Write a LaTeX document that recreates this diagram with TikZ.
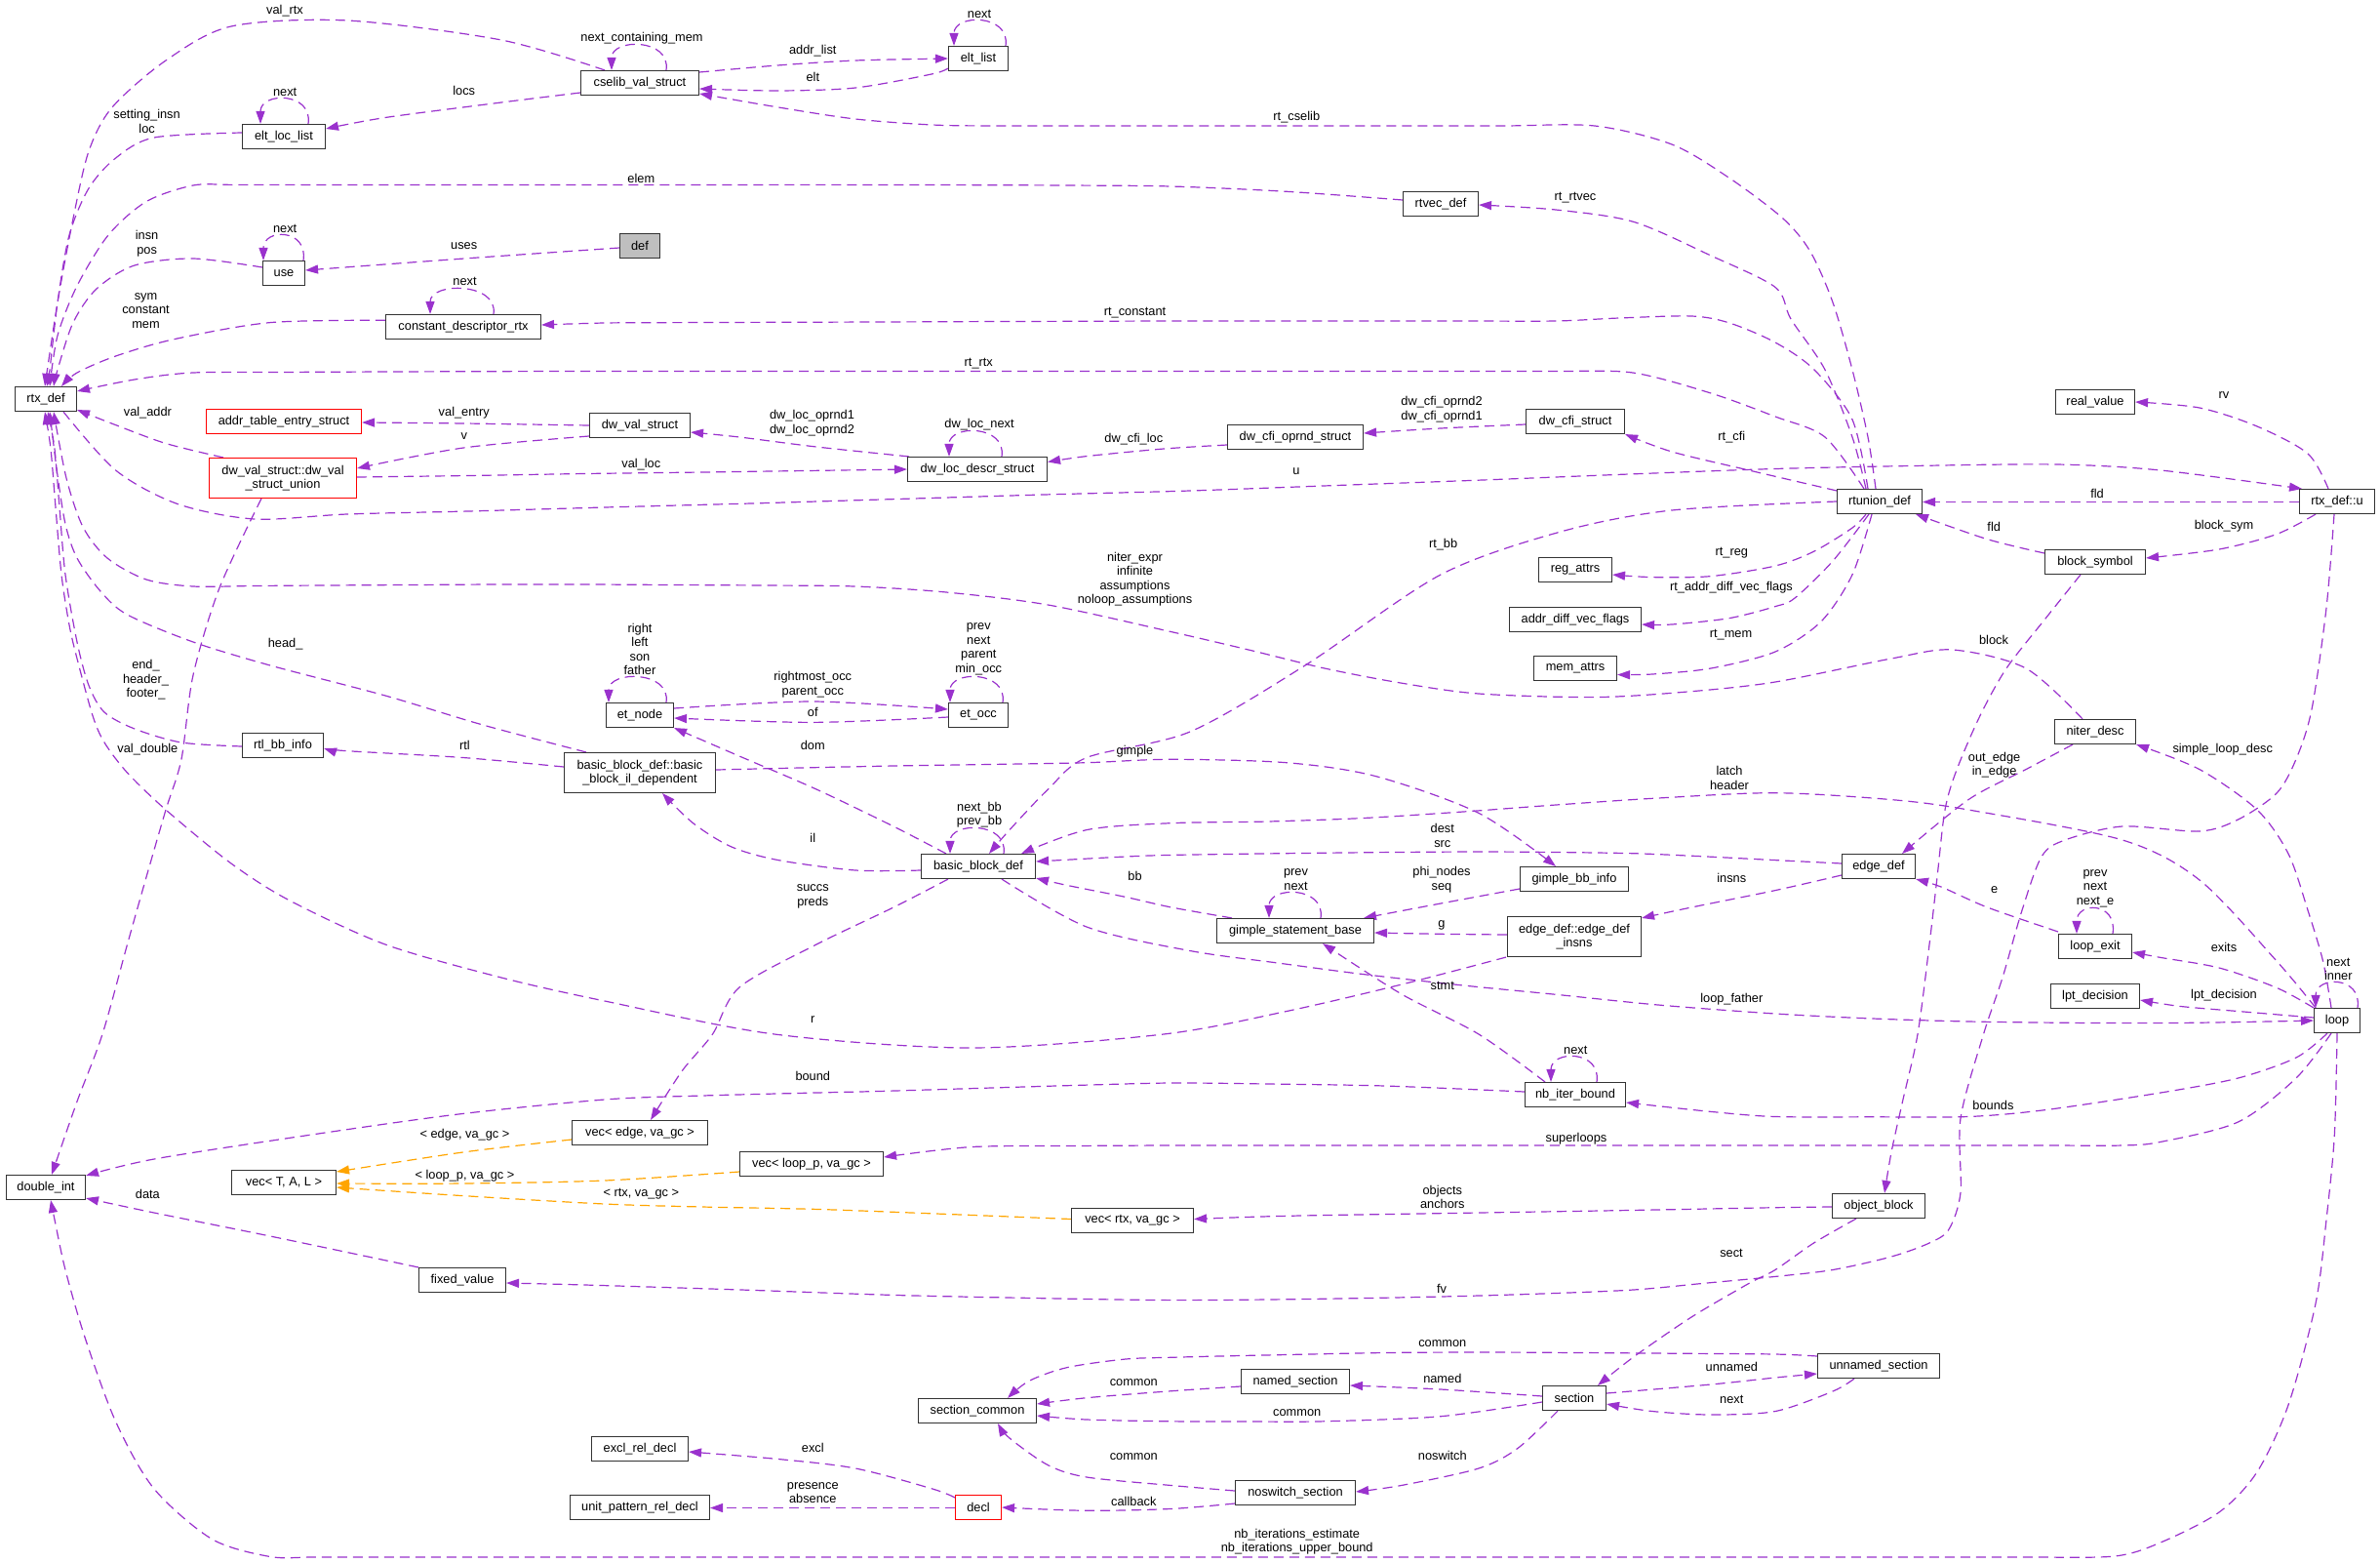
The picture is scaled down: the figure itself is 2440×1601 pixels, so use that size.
\documentclass[tikz,border=0pt]{standalone}
\usepackage{fontspec}
\setmainfont{Liberation Sans}
\usetikzlibrary{arrows.meta}
\definecolor{purp}{HTML}{9A32CD}
\definecolor{orng}{HTML}{FFA500}
\definecolor{gfill}{HTML}{BFBFBF}
\newcommand\gfont{\fontsize{12.8}{14.6}\selectfont}
\pgfdeclarelayer{bg}
\pgfsetlayers{bg,main}
\tikzset{
  box/.style={draw=black!80, line width=1.1pt, fill=white, minimum height=25pt, inner sep=2pt, font=\gfont, align=center},
  rbox/.style={box, draw=red},
  gbox/.style={box, fill=gfill},
  lab/.style={font=\gfont, align=center, inner sep=0pt},
  e/.style={draw=purp, line width=1.2pt, dash pattern=on 10pt off 6pt, -{Triangle[length=13pt,width=9pt]}},
  o/.style={e, draw=orng}
}
\newcommand\selfloop[3]{\draw[e] ([xshift=#2pt]#1.north) .. controls +(5,-33) and +(0,-33) .. ([xshift=#3pt]#1.north);}
\begin{document}
\begin{tikzpicture}[x=1pt,y=-1pt]
\useasboundingbox (0,0) rectangle (2440,1601);
% ---------- class nodes ----------
\node[box,minimum width=63pt] (rtx) at (47,409) {rtx\_def};
\node[box,minimum width=85pt] (eltloc) at (291,140) {elt\_loc\_list};
\node[box,minimum width=43pt] (use) at (291,280) {use};
\node[box,minimum width=159pt] (cdr) at (475,335) {constant\_descriptor\_rtx};
\node[rbox,minimum width=159pt] (ate) at (291,432) {addr\_table\_entry\_struct};
\node[rbox,minimum width=151pt,minimum height=41pt] (dvu) at (290,490) {dw\_val\_struct::dw\_val\\\_struct\_union};
\node[box,minimum width=121pt] (cselib) at (656,85) {cselib\_val\_struct};
\node[box,minimum width=61pt] (eltlist) at (1003,60) {elt\_list};
\node[gbox,minimum width=41pt] (def) at (656,252) {def};
\node[box,minimum width=103pt] (dvs) at (656,436) {dw\_val\_struct};
\node[box,minimum width=143pt] (dlds) at (1002,481) {dw\_loc\_descr\_struct};
\node[box,minimum width=77pt] (rtvec) at (1477,209) {rtvec\_def};
\node[box,minimum width=139pt] (dcos) at (1328,448) {dw\_cfi\_oprnd\_struct};
\node[box,minimum width=101pt] (dcs) at (1615,432) {dw\_cfi\_struct};
\node[box,minimum width=81pt] (realv) at (2148,412) {real\_value};
\node[box,minimum width=87pt] (rtu) at (1927,514) {rtunion\_def};
\node[box,minimum width=77pt] (rxu) at (2396,514) {rtx\_def::u};
\node[box,minimum width=83pt] (rtlbb) at (290,764) {rtl\_bb\_info};
\node[box,minimum width=155pt,minimum height=41pt] (bbil) at (656,792) {basic\_block\_def::basic\\\_block\_il\_dependent};
\node[box,minimum width=69pt] (etn) at (656,733) {et\_node};
\node[box,minimum width=61pt] (eto) at (1003,733) {et\_occ};
\node[box,minimum width=117pt] (bbd) at (1003,888) {basic\_block\_def};
\node[box,minimum width=75pt] (rega) at (1615,584) {reg\_attrs};
\node[box,minimum width=135pt] (advf) at (1615,635) {addr\_diff\_vec\_flags};
\node[box,minimum width=85pt] (mema) at (1615,685) {mem\_attrs};
\node[box,minimum width=111pt] (gbbi) at (1614,901) {gimple\_bb\_info};
\node[box,minimum width=161pt] (gsb) at (1328,954) {gimple\_statement\_base};
\node[box,minimum width=137pt,minimum height=41pt] (edi) at (1614,960) {edge\_def::edge\_def\\\_insns};
\node[box,minimum width=103pt] (bsym) at (2148,576) {block\_symbol};
\node[box,minimum width=83pt] (niter) at (2148,750) {niter\_desc};
\node[box,minimum width=75pt] (edge) at (1926,888) {edge\_def};
\node[box,minimum width=75pt] (lexit) at (2148,970) {loop\_exit};
\node[box,minimum width=91pt] (lpt) at (2148,1021) {lpt\_decision};
\node[box,minimum width=47pt] (loop) at (2396,1046) {loop};
\node[box,minimum width=81pt] (dint) at (47,1217) {double\_int};
\node[box,minimum width=107pt] (vtal) at (291,1212) {vec< T, A, L >};
\node[box,minimum width=89pt] (fixv) at (474,1312) {fixed\_value};
\node[box,minimum width=139pt] (vedge) at (656,1161) {vec< edge, va\_gc >};
\node[box,minimum width=147pt] (vloop) at (832,1193) {vec< loop\_p, va\_gc >};
\node[box,minimum width=125pt] (vrtx) at (1161,1251) {vec< rtx, va\_gc >};
\node[box,minimum width=121pt] (secc) at (1002,1446) {section\_common};
\node[box,minimum width=99pt] (excl) at (656,1485) {excl\_rel\_decl};
\node[box,minimum width=143pt] (upr) at (656,1545) {unit\_pattern\_rel\_decl};
\node[rbox,minimum width=47pt] (decl) at (1003,1545) {decl};
\node[box,minimum width=103pt] (nbib) at (1615,1122) {nb\_iter\_bound};
\node[box,minimum width=111pt] (nsec) at (1328,1416) {named\_section};
\node[box,minimum width=65pt] (sec) at (1614,1433) {section};
\node[box,minimum width=123pt] (nss) at (1328,1530) {noswitch\_section};
\node[box,minimum width=95pt] (objb) at (1926,1236) {object\_block};
\node[box,minimum width=125pt] (unsec) at (1926,1400) {unnamed\_section};
% ---------- labels ----------
\node[lab] (l1) at (292,11.4) {val\_rtx};
\node[lab] (l2) at (658,39.6) {next\_containing\_mem};
\node[lab] (l3) at (1004,14.8) {next};
\node[lab] (l4) at (833.3,51.7) {addr\_list};
\node[lab] (l5) at (833.3,78.5) {elt};
\node[lab] (l6) at (292.2,94.7) {next};
\node[lab] (l7) at (475.7,93) {locs};
\node[lab] (l8) at (150.6,124.3) {setting\_insn\\loc};
\node[lab] (l9) at (1329.3,120.5) {rt\_cselib};
\node[lab] (l10) at (657.3,182.5) {elem};
\node[lab] (l11) at (1615,202.5) {rt\_rtvec};
\node[lab] (l12) at (150.6,249.6) {insn\\pos};
\node[lab] (l13) at (292.2,234.8) {next};
\node[lab] (l14) at (475.7,252) {uses};
\node[lab] (l15) at (476.5,288.6) {next};
\node[lab] (l16) at (149.5,318.4) {sym\\constant\\mem};
\node[lab] (l17) at (1163.5,320.2) {rt\_constant};
\node[lab] (l18) at (1003.3,372.9) {rt\_rtx};
\node[lab] (l19) at (2280,404.6) {rv};
\node[lab] (l20) at (475.7,423.6) {val\_entry};
\node[lab] (l21) at (151.4,422.9) {val\_addr};
\node[lab] (l22) at (475.7,447) {v};
\node[lab] (l23) at (832.5,433.9) {dw\_loc\_oprnd1\\dw\_loc\_oprnd2};
\node[lab] (l24) at (1004,435.6) {dw\_loc\_next};
\node[lab] (l25) at (1162.3,450.4) {dw\_cfi\_loc};
\node[lab] (l26) at (1478,419.6) {dw\_cfi\_oprnd2\\dw\_cfi\_oprnd1};
\node[lab] (l27) at (1775.3,447.7) {rt\_cfi};
\node[lab] (l28) at (657.3,475.9) {val\_loc};
\node[lab] (l29) at (1329,483) {u};
\node[lab] (l30) at (2150,506.2) {fld};
\node[lab] (l31) at (2044.2,539.6) {fld};
\node[lab] (l32) at (2280,539.6) {block\_sym};
\node[lab] (l33) at (1479.6,558.6) {rt\_bb};
\node[lab] (l34) at (1775.3,566.5) {rt\_reg};
\node[lab] (l35) at (1163.5,593.7) {niter\_expr\\infinite\\assumptions\\noloop\_assumptions};
\node[lab] (l36) at (1775,602.6) {rt\_addr\_diff\_vec\_flags};
\node[lab] (l37) at (1774.5,650.9) {rt\_mem};
\node[lab] (l38) at (2044,656) {block};
\node[lab] (l39) at (292.6,660.6) {head\_};
\node[lab] (l40) at (656,665.5) {right\\left\\son\\father};
\node[lab] (l41) at (1003.3,665.5) {prev\\next\\parent\\min\_occ};
\node[lab] (l42) at (149.5,697) {end\_\\header\_\\footer\_};
\node[lab] (l43) at (833.3,701.6) {rightmost\_occ\\parent\_occ};
\node[lab] (l44) at (833.3,730) {of};
\node[lab] (l45) at (833.3,763.5) {dom};
\node[lab] (l46) at (476.5,763.8) {rtl};
\node[lab] (l47) at (151.4,768) {val\_double};
\node[lab] (l48) at (2278.7,768) {simple\_loop\_desc};
\node[lab] (l49) at (1163.5,770.3) {gimple};
\node[lab] (l50) at (2044.6,784.3) {out\_edge\\in\_edge};
\node[lab] (l51) at (1773,797.2) {latch\\header};
\node[lab] (l52) at (1004,835) {next\_bb\\prev\_bb};
\node[lab] (l53) at (1478.8,856.3) {dest\\src};
\node[lab] (l54) at (833.3,859.2) {il};
\node[lab] (l55) at (1163.5,898) {bb};
\node[lab] (l56) at (1775.3,899.5) {insns};
\node[lab] (l57) at (1478,901.7) {phi\_nodes\\seq};
\node[lab] (l58) at (1328.5,901.5) {prev\\next};
\node[lab] (l59) at (2148,910.5) {prev\\next\\next\_e};
\node[lab] (l60) at (2044.6,912.6) {e};
\node[lab] (l61) at (833.3,918.9) {succs\\preds};
\node[lab] (l62) at (1478,948.7) {g};
\node[lab] (l63) at (2280,971) {exits};
\node[lab] (l64) at (2397.3,993.5) {next\\inner};
\node[lab] (l65) at (1478.8,1010.7) {stmt};
\node[lab] (l66) at (2280,1020.3) {lpt\_decision};
\node[lab] (l67) at (1775.3,1024.5) {loop\_father};
\node[lab] (l68) at (833.3,1045) {r};
\node[lab] (l69) at (1615.3,1076.6) {next};
\node[lab] (l70) at (833.3,1103) {bound};
\node[lab] (l71) at (2043.4,1132.5) {bounds};
\node[lab] (l72) at (476.5,1163.5) {< edge, va\_gc >};
\node[lab] (l73) at (1616,1167) {superloops};
\node[lab] (l74) at (476.5,1205) {< loop\_p, va\_gc >};
\node[lab] (l75) at (1478.8,1227) {objects\\anchors};
\node[lab] (l76) at (151.4,1224) {data};
\node[lab] (l77) at (657.3,1224) {< rtx, va\_gc >};
\node[lab] (l78) at (1775,1284) {sect};
\node[lab] (l79) at (1478,1320.5) {fv};
\node[lab] (l80) at (1478.8,1376.8) {common};
\node[lab] (l81) at (1775.3,1401) {unnamed};
\node[lab] (l82) at (1478.8,1412.7) {named};
\node[lab] (l83) at (1162.3,1417) {common};
\node[lab] (l84) at (1775.3,1434.4) {next};
\node[lab] (l85) at (1329.7,1448.2) {common};
\node[lab] (l86) at (833.3,1483.7) {excl};
\node[lab] (l87) at (1162.3,1493) {common};
\node[lab] (l88) at (1478.8,1492.4) {noswitch};
\node[lab] (l89) at (833.3,1530) {presence\\absence};
\node[lab] (l90) at (1162.3,1538.6) {callback};
\node[lab] (l91) at (1329.7,1580.2) {nb\_iterations\_estimate\\nb\_iterations\_upper\_bound};
% ---------- connectors ----------
\begin{pgfonlayer}{bg}
\draw[e] plot[smooth] coordinates {([xshift=-36pt]cselib.north) (514,41) (356,21) (237,27) (170,62) (115,110) (91,155) (75,224) (59,310) ([xshift=-1pt]rtx.north)};
\selfloop{cselib}{27}{-29}
\selfloop{eltlist}{28}{-25}
\selfloop{eltloc}{25}{-24}
\selfloop{use}{20}{-21}
\selfloop{cdr}{31}{-34}
\selfloop{dlds}{25}{-29}
\selfloop{etn}{27}{-32}
\selfloop{eto}{25}{-29}
\selfloop{bbd}{26}{-29}
\selfloop{gsb}{26}{-27}
\selfloop{nbib}{22}{-25}
\selfloop{lexit}{18}{-19}
\selfloop{loop}{21}{-22}
\draw[e] plot[smooth] coordinates {([yshift=11pt]cselib.east) (797,67) (877,62) (eltlist.west)};
\draw[e] plot[smooth] coordinates {([yshift=-10pt]eltlist.west) (955,76) (877,90) (797,93) ([yshift=-6pt]cselib.east)};
\draw[e] plot[smooth] coordinates {([yshift=-10pt]cselib.west) (514,105) (395,120.5) ([yshift=8pt]eltloc.east)};
\draw[e] plot[smooth] coordinates {([yshift=4pt]eltloc.west) (158,141) (118.6,162) (91,193) (71,241) (59,310) (51,379) ([xshift=1pt]rtx.north)};
\draw[e] plot[smooth] coordinates {([xshift=-4pt]rtu.north) (1915,448) (1899,379) (1879,310) (1856,258) (1828,224) (1773,182.5) (1714,148) (1635,129) (1540,129) (1430,129) (1320,129) (1210,129) (1100,129) (1020,129) (956,128) (877,122) (798,110) ([yshift=-11pt]cselib.east)};
\draw[e] plot[smooth] coordinates {([yshift=4pt]rtvec.west) (1319,196.3) (1200,191) (1090,190) (980,189.6) (870,189.4) (760,189.4) (650,189.4) (540,189.4) (430,189.4) (320,189.4) (240,189.4) (198,190) (150,206.6) (111,241) (79,293) (59,344) ([xshift=4pt]rtx.north)};
\draw[e] plot[smooth] coordinates {([xshift=-14pt]rtu.north) (1899,448) (1871,379) (1836,327) (1820,294.4) (1754,262) (1674.5,227.3) (1595,215) ([yshift=-1pt]rtvec.east)};
\draw[e] plot[smooth] coordinates {([yshift=6pt]use.west) (198,265) (138,272) (99,296) (75,330.6) (59,379) ([xshift=8pt]rtx.north)};
\draw[e] plot[smooth] coordinates {([yshift=-2pt]def.west) (476,265) ([yshift=3pt]use.east)};
\draw[e] plot[smooth] coordinates {([yshift=6.7pt]cdr.west) (277,330.6) (178,347.8) (118.6,365) (79,382) ([xshift=16pt]rtx.north)};
\draw[e] plot[smooth] coordinates {([xshift=-12pt]rtu.north) (1899,430) (1860,379) (1820,351) (1773,331) (1734,324) (1660,326) (1595,329) (1500,329) (1400,329) (1300,329) (1200,329) (1100,329.3) (1000,329.6) (900,330) (800,330.3) (700,330.6) (620,331) ([yshift=2pt]cdr.east)};
\draw[e] plot[smooth] coordinates {([xshift=-16pt]rtu.north) (1871,448) (1820,427) (1754,403) (1674,382) (1595,380.5) (1500,380.5) (1400,380.5) (1300,380.5) (1200,380.5) (1100,380.5) (1000,380.5) (900,380.5) (800,380.5) (700,380.5) (600,380.5) (500,380.7) (400,381) (300,381.4) (198,382) (138,389) ([yshift=8pt]rtx.east)};
\draw[e] plot[smooth] coordinates {([xshift=18pt]rtx.south) (118.6,482) (182,516.5) (261,532) (356,527) (480,524) (620,520) (770,516) (920,511.5) (1070,507) (1220,503) (1370,497.5) (1520,492) (1670,486) (1820,480.5) (1960,477.5) (2108,476) (2215,482) ([xshift=-36pt]rxu.north)};
\draw[e] plot[smooth] coordinates {(dvs.west) (476,434) ([yshift=-1pt]ate.east)};
\draw[e] plot[smooth] coordinates {([yshift=-11pt]dvs.west) (475,459) ([yshift=10pt]dvu.east)};
\draw[e] plot[smooth] coordinates {([xshift=-61pt]dvu.north) (170,454.5) (118.6,435.6) ([yshift=2pt]rtx.south east)};
\draw[e] plot[smooth] coordinates {([yshift=1pt]dvu.east) (480,487.5) (600,485.5) (720,484) (840,482.3) (dlds.west)};
\draw[e] plot[smooth] coordinates {([xshift=-70pt]dlds.north) (837,458) (758,448) ([yshift=-7pt]dvs.east)};
\draw[e] plot[smooth] coordinates {([yshift=-8pt]dcos.west) (1193,460) (1114,467.6) ([yshift=7.5pt]dlds.east)};
\draw[e] plot[smooth] coordinates {([yshift=-3pt]dcs.west) (1477,439) ([yshift=4pt]dcos.east)};
\draw[e] plot[smooth] coordinates {([yshift=-2pt]rtu.north west) (1793,482) (1714,463) (dcs.south east)};
\draw[e] ([yshift=-0.5pt]rxu.west) -- ([yshift=-0.5pt]rtu.east);
\draw[e] plot[smooth] coordinates {([xshift=-9pt]rxu.north) (2366,465) (2314,437) (2255,418) (realv.east)};
\draw[e] plot[smooth] coordinates {([xshift=-22pt]rxu.south) (2334,547.5) (2275,563) ([yshift=4pt]bsym.east)};
\draw[e] plot[smooth] coordinates {([yshift=9pt]bsym.west) (2037.5,552.7) ([xshift=37pt]rtu.south)};
\draw[e] plot[smooth] coordinates {(rtu.west) (1714,523) (1600,545) (1477,589) (1338,682) (1220,750) (1114,776.5) (1074.5,809) (1035,850.6) ([xshift=11pt]bbd.north)};
\draw[e] plot[smooth] coordinates {([xshift=-14pt]rtu.south) (1899,541) (1860,565) (1820,580) (1754,590.6) (1694,591.6) ([yshift=-5pt]rega.east)};
\draw[e] plot[smooth] coordinates {([xshift=-11pt]rtu.south) (1879,575) (1840,613) (1820,621.6) (1773,633.6) (1714,640) ([yshift=-5pt]advf.east)};
\draw[e] plot[smooth] coordinates {([xshift=-8pt]rtu.south) (1899,589) (1867,637) (1820,668) (1754,685) (1694,691) ([yshift=-6.5pt]mema.east)};
\draw[e] plot[smooth] coordinates {([xshift=-13pt]niter.north) (2077,685) (2002,666) (1939,675) (1820,699) (1730,709) (1635,714.6) (1516,711) (1436,700) (1358,685) (1280,666) (1200,647.4) (1074.5,620) (970,607) (876,601) (780,600) (690,599.5) (600,599) (510,599) (420,599.5) (330,600) (260,600.5) (198,601) (150,594) (110,572) (85,540) (68,490) ([xshift=8pt]rtx.south)};
\draw[e] plot[smooth] coordinates {([xshift=-55pt]bbil.north) (495,743) (395,713) (277,682) (198,658) (130.5,630) (103,606) (79,572) (67,537) (58,480) ([xshift=4pt]rtx.south)};
\draw[e] plot[smooth] coordinates {([yshift=-1pt]rtlbb.west) (186,761) (138,747) (107,730) (91,702.5) (79,658) (67,589) (61,520) (56,460) ([xshift=2pt]rtx.south)};
\draw[e] plot[smooth] coordinates {([xshift=-70pt]edi.south) (1437,1009) (1319,1036.5) (1193,1060) (995,1074) (794,1060) (620,1026) (514,1002) (395,968) (297,923) (237,885) (170,830) (130.5,792) (107,761) (95,733.5) (79,675) (71,640.5) (63,589) (57,520) (52,460) ([xshift=-1pt]rtx.south)};
\draw[e] plot[smooth] coordinates {([xshift=-22pt]dvu.south) (225,602.6) (198,692) (186,778) (170,830) (150,899) (130.5,968) (105,1060) (79,1129) ([xshift=6pt]dint.north)};
\draw[e] plot[smooth] coordinates {([yshift=7pt]etn.east) (833,719) ([yshift=6pt]eto.west)};
\draw[e] plot[smooth] coordinates {([yshift=-2pt]eto.west) (833,740.4) ([yshift=-3pt]etn.east)};
\draw[e] plot[smooth] coordinates {([xshift=-33pt]bbd.north) (916,847) (837,809) (758,775) (etn.south east)};
\draw[e] plot[smooth] coordinates {([yshift=-4pt]bbd.west) (877,892) (798,881.6) (750,868) (711,844) ([xshift=23pt]bbil.south)};
\draw[e] plot[smooth] coordinates {([yshift=6pt]bbil.west) (474.5,776.5) (356,769.7) ([yshift=-3pt]rtlbb.east)};
\draw[e] plot[smooth] coordinates {([yshift=3pt]bbil.east) (820,787) (916,785) (1014,783.5) (1114,781.7) (1200,778.3) (1319,781.7) (1410,795.5) (1516,833.4) ([xshift=-19pt]gbbi.north)};
\draw[e] plot[smooth] coordinates {([xshift=-22pt]loop.north) (2334,985) (2255,902) (2176,861) (2018,830) (1939,819.6) (1820,812.7) (1700,818) (1595,825) (1500,832) (1398,838.5) (1300,842) (1200,843.7) (1114,850.6) ([xshift=44pt]bbd.north)};
\draw[e] plot[smooth] coordinates {([yshift=3pt]edge.west) (1820,881.6) (1740,877.5) (1674.5,874.7) (1595,873.5) (1516,873) (1430,873.5) (1350,874.3) (1270,875.3) (1200,876.4) (1154,878) ([yshift=5pt]bbd.east)};
\draw[e] plot[smooth] coordinates {([xshift=-65pt]gsb.north) (1200,929.8) (1154,919.4) (1094,907.4) ([yshift=1pt]bbd.south east)};
\draw[e] plot[smooth] coordinates {([xshift=24pt]bbd.south) (1114,950) (1220,974.5) (1310,987) (1398,998.6) (1500,1010) (1595,1019.3) (1700,1030) (1820,1039) (1920,1044) (2018,1047) (2120,1048.3) (2215,1048.6) (2300,1047.5) (loop.west)};
\draw[e] plot[smooth] coordinates {([xshift=-31pt]bbd.south) (916,930) (837,968) (758,1012) (730.5,1060) (699,1098) ([xshift=11pt]vedge.north)};
\draw[e] plot[smooth] coordinates {([yshift=-10pt]gbbi.west) (1477,926) ([xshift=70pt]gsb.north)};
\draw[e] plot[smooth] coordinates {([yshift=2pt]edi.west) (1477,957.3) ([yshift=-2pt]gsb.east)};
\draw[e] plot[smooth] coordinates {([yshift=-9pt]edge.west) (1820,912.6) (1734,930) ([yshift=-2pt]edi.north east)};
\draw[e] plot[smooth] coordinates {([xshift=-31pt]nbib.north) (1516,1060) (1437,1019) ([xshift=28pt]gsb.south)};
\draw[e] plot[smooth] coordinates {([yshift=3pt]nbib.west) (1420,1113) (1300,1111) (1200,1110) (1100,1112.5) (1000,1115.5) (900,1118.5) (837,1120) (720,1123) (620,1127) (470,1142) (316,1163.5) (158,1188) ([yshift=-1pt]dint.north east)};
\draw[e] plot[smooth] coordinates {([xshift=-10pt]loop.south) (2354,1084) (2294.5,1105) (2215,1120) (2097,1137.6) (2018,1144.5) (1920,1144.8) (1820,1144.5) (1754,1139.4) ([yshift=-8pt]nbib.east)};
\draw[e] plot[smooth] coordinates {([xshift=-6pt]loop.south) (2354,1105) (2294.5,1150) (2215,1170.4) (2176,1174) (2100,1174) (2000,1174) (1900,1174) (1800,1174) (1700,1174) (1600,1174) (1500,1174) (1400,1174) (1300,1174) (1200,1174) (1100,1174.5) (995,1175.6) ([yshift=7pt]vloop.east)};
\draw[e] plot[smooth] coordinates {(loop.south) (2393.3,1163.5) (2385,1250) (2374,1336) (2346,1440) (2314,1508.6) (2275,1550) (2215,1581) (2168,1595) (2080,1596) (1980,1596) (1880,1596) (1780,1596) (1680,1596) (1580,1596) (1480,1596) (1380,1596) (1280,1596) (1180,1596) (1080,1596) (980,1596) (880,1596) (780,1596) (680,1596) (580,1596) (480,1596) (380,1596) (320,1596) (277,1595.5) (217.5,1577.6) (158,1526) (118.6,1457) (87,1370.6) (67,1301.5) (56,1250) ([xshift=5pt]dint.south)};
\draw[e] plot[smooth] coordinates {([xshift=-6pt]loop.north) (2381.5,985) (2366,933) (2346,875) (2314,830) (2255,788.6) (niter.south east)};
\draw[e] plot[smooth] coordinates {([xshift=-23pt]niter.south) (2077,788.6) (2018,819.6) ([xshift=24pt]edge.north)};
\draw[e] plot[smooth] coordinates {([yshift=2pt]lexit.north west) (2037.5,930) (1990,909) (edge.south east)};
\draw[e] plot[smooth] coordinates {(loop.north west) (2334,1012.4) (2275,992) (2215,981.4) ([yshift=-6pt]lexit.east)};
\draw[e] plot[smooth] coordinates {([yshift=3pt]loop.west) (2294.5,1036.5) (2235,1031.4) ([yshift=-4pt]lpt.east)};
\draw[e] plot[smooth] coordinates {([xshift=-15pt]bsym.south) (2097,634) (2057,685) (2030,733.5) (2006,789) (1994,830) (1986,899) (1978,968) (1966,1060) (1950.5,1129) (1939,1181) ([xshift=6pt]objb.north)};
\draw[e] plot[smooth] coordinates {([xshift=-3pt]rxu.south) (2385,623) (2370,727) (2354,778) (2334,813) (2294.5,840) (2255,852) (2176,847) (2117,861) (2093,878) (2073,933) (2053,1002) (2033.5,1060) (2010,1146) (2010,1222) (1998,1260) (1978,1274) (1939,1288) (1879,1301.5) (1820,1308.4) (1750,1315) (1674.5,1322) (1580,1326) (1477,1329) (1340,1331.5) (1200,1332.6) (1060,1330.5) (916,1327.4) (760,1322) (600,1317) ([yshift=-3pt]fixv.east)};
\draw[e] plot[smooth] coordinates {([yshift=-1pt]objb.west) (1820,1237.7) (1670,1240.5) (1516,1243) (1319,1246.3) ([yshift=1.5pt]vrtx.east)};
\draw[e] plot[smooth] coordinates {([xshift=-23pt]objb.south) (1859.5,1274) (1820,1301.5) (1793,1315.4) (1734,1350) (1674.5,1391) ([xshift=24pt]sec.north)};
\draw[e] plot[smooth] coordinates {([yshift=2pt]sec.west) (1477,1424) ([yshift=-4pt]nsec.east)};
\draw[e] plot[smooth] coordinates {([yshift=-4pt]sec.west) (1477,1451.7) (1358,1456.8) (1280,1457) (1200,1456.8) (1114,1455) ([yshift=-5pt]secc.east)};
\draw[e] plot[smooth] coordinates {([yshift=5pt]sec.east) (1754,1419) (1820,1412) ([yshift=-8pt]unsec.west)};
\draw[e] plot[smooth] coordinates {([xshift=-25pt]unsec.south) (1879,1426) (1820,1446.5) (1754,1450) (1694,1446.5) ([yshift=-6pt]sec.east)};
\draw[e] plot[smooth] coordinates {([yshift=10pt]unsec.west) (1820,1388) (1720,1387.2) (1620,1386.5) (1520,1386) (1420,1386.5) (1320,1388.5) (1250,1390) (1200,1391.3) (1154,1393) (1094,1401.6) (1055,1415.4) ([xshift=31pt]secc.north)};
\draw[e] plot[smooth] coordinates {([yshift=-5pt]nsec.west) (1200,1425.8) (1114,1432.7) ([yshift=7pt]secc.east)};
\draw[e] plot[smooth] coordinates {([yshift=2pt]nss.west) (1200,1522.4) (1114,1514) (1074.5,1501.7) (1035,1474) ([xshift=21pt]secc.south)};
\draw[e] plot[smooth] coordinates {([xshift=-17pt]sec.south) (1556,1484.4) (1516,1505) (1437,1522.4) ([yshift=1pt]nss.east)};
\draw[e] plot[smooth] coordinates {([yshift=-11pt]nss.west) (1200,1546.5) (1114,1548.3) (decl.east)};
\draw[e] plot[smooth] coordinates {([yshift=-3pt]decl.north west) (956,1526) (877,1505) (798,1495.5) ([yshift=-3pt]excl.east)};
\draw[e] ([yshift=-0.5pt]decl.west) -- ([yshift=-0.5pt]upr.east);
\draw[o] plot[smooth] coordinates {([yshift=-7pt]vedge.west) (474.5,1181) ([yshift=11pt]vtal.east)};
\draw[o] plot[smooth] coordinates {([yshift=-8pt]vloop.west) (620,1210) (474.5,1213) ([yshift=-1pt]vtal.east)};
\draw[o] plot[smooth] coordinates {([yshift=1.5pt]vrtx.west) (960,1244) (837,1239.4) (720,1237) (620,1234) (474.5,1225.6) ([yshift=-5pt]vtal.east)};
\draw[e] plot[smooth] coordinates {([xshift=-45pt]fixv.north) (277,1267) (158,1243) ([yshift=2pt]dint.south east)};
\end{pgfonlayer}
\end{tikzpicture}
\end{document}
